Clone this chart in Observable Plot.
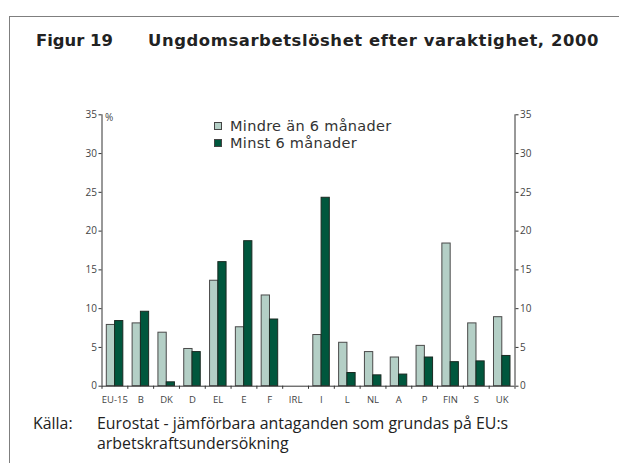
<!DOCTYPE html>
<html><head><meta charset="utf-8">
<script src="https://cdn.jsdelivr.net/npm/d3@7"></script>
<script src="https://cdn.jsdelivr.net/npm/@observablehq/plot@0.6"></script>
<style>
body{margin:0;background:#fff;}
#wrap{position:relative;width:619px;height:463px;overflow:hidden;font-family:"Open Sans",sans-serif;color:#222;background:#fff;}
#box{position:absolute;left:9px;top:16px;width:700px;height:600px;border-left:1.5px solid #7f7f7f;border-top:1.5px solid #7f7f7f;}
.t{position:absolute;white-space:nowrap;line-height:1;}
.title{font-family:"DejaVu Sans",sans-serif;font-weight:bold;font-size:16.4px;color:#222;}
.cap{font-size:15.9px;color:#222;}
.leg{font-family:"DejaVu Sans",sans-serif;font-size:14.5px;letter-spacing:0.3px;color:#333;}
.sw{position:absolute;width:6px;height:6px;border:1px solid #444;}
#chart{position:absolute;left:0;top:100px;}
</style></head>
<body>
<div id="wrap">
  <div id="box"></div>
  <div class="t title" style="left:36px;top:33px;">Figur 19</div>
  <div class="t title" style="left:148px;top:33px;letter-spacing:0.6px;">Ungdomsarbetslöshet efter varaktighet, 2000</div>
  <div id="chart"></div>
  <div class="sw" id="sw0" style="left:214px;top:122px;"></div>
  <div class="t leg" id="lg0" style="left:230px;top:119px;"></div>
  <div class="sw" id="sw1" style="left:214px;top:139px;"></div>
  <div class="t leg" id="lg1" style="left:230px;top:136px;"></div>
  <div class="t" style="left:105px;top:112px;font-size:10px;color:#444;">%</div>
  <div class="t cap" style="left:33px;top:416px;">Källa:</div>
  <div class="t cap" style="left:97px;top:416px;">Eurostat - jämförbara antaganden som grundas på EU:s</div>
  <div class="t cap" style="left:97px;top:436px;">arbetskraftsundersökning</div>
</div>
<script>
const countries = ["EU-15","B","DK","D","EL","E","F","IRL","I","L","NL","A","P","FIN","S","UK"];
const shortTerm = [7.9,8.1,6.9,4.8,13.6,7.6,11.7,null,6.6,5.6,4.4,3.7,5.2,18.4,8.1,8.9];
const longTerm  = [8.4,9.6,0.5,4.4,16.0,18.7,8.6,null,24.3,1.7,1.4,1.5,3.7,3.1,3.2,3.9];
const seriesNames = ["Mindre än 6 månader","Minst 6 månader"];
const yTicks = [0,5,10,15,20,25,30,35];

const colors = ["#b4cfc6","#00573d"];
const strokes = ["#4a4a4a","#1a2a22"];
document.getElementById("lg0").textContent = seriesNames[0];
document.getElementById("lg1").textContent = seriesNames[1];
document.getElementById("sw0").style.background = colors[0];
document.getElementById("sw1").style.background = colors[1];

const W = 619, H = 320, mL = 101.5, mR = 104.5, mT = 14.3, mB = 34.3;
const bw = (W - mL - mR) / countries.length;

const rows0 = countries.map((c,i)=>({country:c, value:shortTerm[i]})).filter(d=>d.value!=null);
const rows1 = countries.map((c,i)=>({country:c, value:longTerm[i]})).filter(d=>d.value!=null);

const plot = Plot.plot({
  width: W, height: H,
  marginLeft: mL, marginRight: mR, marginTop: mT, marginBottom: mB,
  style: {fontFamily: '"Open Sans", sans-serif', background: "transparent", color: "#444"},
  x: {type: "band", domain: countries, padding: 0, round: false, label: null},
  y: {domain: [0, 35], label: null},
  marks: [
    Plot.barY(rows0, {x: "country", y: "value", fill: colors[0], stroke: strokes[0], strokeWidth: 1, insetLeft: 4.8, insetRight: 12.7}),
    Plot.barY(rows1, {x: "country", y: "value", fill: colors[1], stroke: strokes[1], strokeWidth: 1, insetLeft: 13.1, insetRight: 4.5}),
    Plot.ruleY([0], {stroke: "#333", strokeWidth: 1}),
    Plot.ruleX([countries[0]], {x: d=>d, dx: -bw/2, y1: 0, y2: 35, stroke: "#333", strokeWidth: 1}),
    Plot.ruleX([countries[countries.length-1]], {x: d=>d, dx: bw/2, y1: 0, y2: 35, stroke: "#333", strokeWidth: 1}),
    Plot.ruleX(countries, {x: d=>d, dx: -bw/2, y1: 0, y2: -0.4, stroke: "#333", strokeWidth: 1}),
    Plot.ruleX([countries[countries.length-1]], {x: d=>d, dx: bw/2, y1: 0, y2: -0.4, stroke: "#333", strokeWidth: 1}),
    Plot.axisY(yTicks, {anchor: "left", tickSize: 3, tickPadding: 2, fontSize: 10, stroke: "#333", fill: "#444", label: null}),
    Plot.axisY(yTicks, {anchor: "right", tickSize: 3, tickPadding: 2, fontSize: 10, stroke: "#333", fill: "#444", label: null}),
    Plot.axisX({tickSize: 0, tickPadding: 10, fontSize: 9.5, fill: "#444", label: null})
  ]
});
document.getElementById("chart").appendChild(plot);
</script>
</body></html>
